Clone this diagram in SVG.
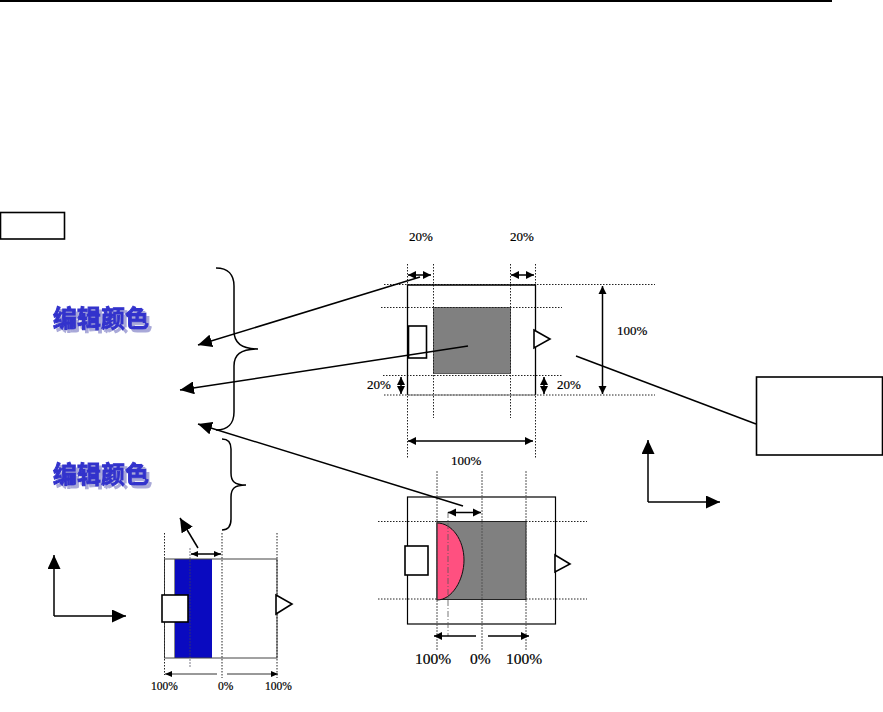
<svg xmlns="http://www.w3.org/2000/svg" width="883" height="712" viewBox="0 0 883 712">
<style>
.ln{fill:none;stroke:#000;stroke-width:1.500}
.dot{fill:none;stroke:#222;stroke-width:1;stroke-dasharray:1.500 1.500}
.gd{fill:none;stroke:#555;stroke-width:1;stroke-dasharray:2 1}
.box{fill:#fff;stroke:#000;stroke-width:1.600}
.t{font-family:"Liberation Serif",serif;fill:#000;stroke:#000;stroke-width:.2}
.t13{font-size:13px}.t16{font-size:15.500px}.t11{font-size:11.500px}
.cj{font-family:"Noto Sans CJK SC",sans-serif;font-size:24px;font-weight:700;fill:#3333cc;stroke:#3333cc;stroke-width:1;filter:url(#shadow)}
</style>
<defs>
<filter id="shadow" x="-10%" y="-20%" width="125%" height="150%"><feDropShadow dx="3" dy="3" stdDeviation="0.300" flood-color="#a8a8d8"/></filter>
<marker id="big" markerUnits="userSpaceOnUse" markerWidth="15" markerHeight="13" refX="14" refY="6.500" orient="auto"><path d="M0 0L14 6.500L0 13z" fill="#000"/></marker>
<marker id="sm" markerUnits="userSpaceOnUse" markerWidth="9" markerHeight="9" refX="8" refY="4.500" orient="auto-start-reverse"><path d="M0 .5L8 4.500L0 8.500z" fill="#000"/></marker>
<marker id="smn" markerUnits="userSpaceOnUse" markerWidth="8" markerHeight="7" refX="7" refY="3.500" orient="auto-start-reverse"><path d="M0 .5L7 3.500L0 6.500z" fill="#000"/></marker>
</defs>
<g id="top-rule"><path fill="none" stroke="#000" stroke-width="2" d="M0 1H832"/></g>
<g id="label-box"><rect class="box" x="0.500" y="212.500" width="64" height="26.500"/></g>
<g id="title-1"><text class="cj" x="53" y="327">编辑颜色</text></g>
<g id="title-2"><text class="cj" x="53" y="483">编辑颜色</text></g>
<g id="brace-1"><path class="ln" d="M216 268C228 268 234 275 234 286V331C234 342 240 349 258 349C240 349 234 355 234 366V412C234 423 228 430 216 430"/></g>
<g id="brace-2"><path class="ln" d="M222 439C228 439 231 443 231 449V473C231 481 234 485 246 485C234 485 231 489 231 497V519C231 526 228 530 222 530"/></g>
<g id="callout-box"><rect class="box" x="756.500" y="377" width="126" height="78"/></g>
<g id="diagram-top">
<rect x="433.500" y="307.500" width="77" height="66" fill="#808080" stroke="#444" stroke-width=".8"/>
<path class="dot" d="M384 284.500H655M381 307.500H562M383 375.500H563M384 395H655M407.500 264V459M433.500 264V418M510.500 264V418M535.500 264V459"/>
<path fill="none" stroke="#000" stroke-width="1.300" d="M407.500 395V285H535.500V395"/>
<path fill="none" stroke="#777" stroke-width="1" d="M407.500 395H535.500"/>
<rect class="box" x="408.500" y="326" width="18" height="32"/>
<path class="box" d="M534 330L550 339L534 348z"/>
</g>
<g id="diagram-middle">
<rect x="407.500" y="497" width="148" height="127" fill="none" stroke="#000" stroke-width="1.200"/>
<rect x="437" y="521.500" width="89" height="78" fill="#808080" stroke="#222" stroke-width="1"/>
<path d="M437 523C452 523 464 540 464 560C464 580 452 600 437 600z" fill="#ff5080" stroke="#111" stroke-width="1"/>
<path class="dot" d="M378 521.500H437M526 521.500H587M378 599H437M526 599H587"/>
<path class="gd" d="M437 471V650M482 471V650M526 471V650"/>
<path fill="none" stroke="#555" stroke-width=".8" stroke-dasharray="6 2 1 2" d="M448 512V636"/>
<rect class="box" x="405" y="546" width="23" height="29"/>
<path class="box" d="M555 555L570 564L555 572z"/>
</g>
<g id="diagram-left">
<rect x="174" y="559" width="38" height="99" fill="#0a0ac0"/>
<path d="M174.500 559V658" stroke="#888" stroke-width="1"/>
<rect x="164.500" y="559" width="112.500" height="99" fill="none" stroke="#444" stroke-width="1"/>
<path class="dot" d="M164.500 533V675M222 533V678M277 533V678"/>
<path d="M190 548V668" fill="none" stroke="#445" stroke-width=".7" stroke-dasharray="2 1"/>
<rect class="box" x="162" y="595" width="26" height="27"/>
<path class="box" d="M276 595L292 604L276 614z"/>
</g>
<g id="connectors">
<path class="ln" d="M420 277L198 345" marker-end="url(#big)"/>
<path class="ln" d="M468 346L180 390" marker-end="url(#big)"/>
<path class="ln" d="M463 506L198 424" marker-end="url(#big)"/>
<path class="ln" d="M198 548L180 518" marker-end="url(#big)"/>
<path class="ln" d="M576 356L756 424"/>
<path class="ln" d="M648 502V440" marker-end="url(#big)"/>
<path class="ln" d="M648 502H720" marker-end="url(#big)"/>
<path class="ln" d="M54 616V555" marker-end="url(#big)"/>
<path class="ln" d="M54 616H126" marker-end="url(#big)"/>
<path class="ln" d="M408 275H431" marker-start="url(#sm)" marker-end="url(#sm)"/>
<path class="ln" d="M511 275H534" marker-start="url(#sm)" marker-end="url(#sm)"/>
<path class="ln" d="M401 377V394" marker-start="url(#sm)" marker-end="url(#sm)"/>
<path class="ln" d="M544 377V394" marker-start="url(#sm)" marker-end="url(#sm)"/>
<path class="ln" d="M602.500 286V394" marker-start="url(#sm)" marker-end="url(#sm)"/>
<path class="ln" d="M408 441H533" marker-start="url(#sm)" marker-end="url(#sm)"/>
<path class="ln" d="M448 512.500H481" marker-start="url(#sm)" marker-end="url(#sm)"/>
<path class="ln" d="M476 636H434" marker-end="url(#sm)"/>
<path class="ln" d="M488 636H529" marker-end="url(#sm)"/>
<path class="ln" d="M191 554H221" marker-start="url(#smn)" marker-end="url(#smn)"/>
<path fill="none" stroke="#333" stroke-width="1" d="M217 674H165" marker-end="url(#smn)"/>
<path fill="none" stroke="#333" stroke-width="1" d="M227 674H278" marker-end="url(#smn)"/>
</g>
<g id="labels">
<text class="t t13" x="409" y="241">20%</text>
<text class="t t13" x="510" y="241">20%</text>
<text class="t t13" x="617" y="335">100%</text>
<text class="t t13" x="367" y="389">20%</text>
<text class="t t13" x="557" y="389">20%</text>
<text class="t t13" x="451" y="465">100%</text>
<text class="t t16" x="415" y="664">100%</text>
<text class="t t16" x="470" y="664">0%</text>
<text class="t t16" x="506" y="664">100%</text>
<text class="t t11" x="151" y="690">100%</text>
<text class="t t11" x="218" y="690">0%</text>
<text class="t t11" x="265" y="690">100%</text>
</g>
</svg>
